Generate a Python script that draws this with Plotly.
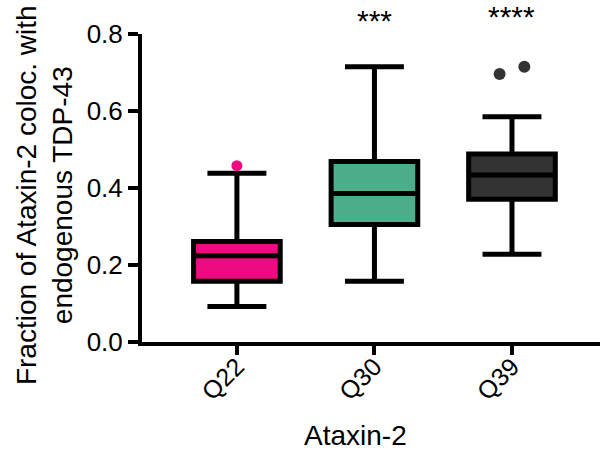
import plotly.graph_objects as go

categories = ["Q22", "Q30", "Q39"]
q1 = [0.158, 0.305, 0.371]
median = [0.224, 0.386, 0.434]
q3 = [0.261, 0.469, 0.488]
lower = [0.092, 0.158, 0.228]
upper = [0.438, 0.715, 0.585]
fills = ["#EE0A80", "#4CAF8B", "#333333"]

outlier_group = [0, 2, 2]
outlier_dx = [0.0, -0.09, 0.09]
outlier_y = [0.458, 0.696, 0.715]
outlier_colors = ["#EE0A80", "#333333", "#333333"]
outlier_sizes = [11, 12, 12]

sig_labels = ["", "***", "****"]
sig_y = [0.0, 0.045, 0.057]

y_title = "Fraction of Ataxin-2 coloc. with<br>endogenous TDP-43"
x_title = "Ataxin-2"

FONT = "Liberation Sans, Arial, Helvetica, sans-serif"

fig = go.Figure()
for i, cat in enumerate(categories):
    fig.add_trace(go.Box(
        x=[i], q1=[q1[i]], median=[median[i]], q3=[q3[i]],
        lowerfence=[lower[i]], upperfence=[upper[i]],
        boxpoints=False, width=0.63, whiskerwidth=0.68,
        fillcolor=fills[i], line=dict(color="black", width=5),
        name=cat, showlegend=False, hoverinfo="skip",
    ))

fig.add_trace(go.Scatter(
    x=[g + d for g, d in zip(outlier_group, outlier_dx)], y=outlier_y,
    mode="markers",
    marker=dict(color=outlier_colors, size=outlier_sizes, opacity=1, line=dict(width=0)),
    opacity=1, showlegend=False, hoverinfo="skip", cliponaxis=False,
))

for i, lab in enumerate(sig_labels):
    if lab:
        fig.add_annotation(x=i, y=1 + sig_y[i], xref="x", yref="paper",
                           text=lab, showarrow=False, yanchor="middle",
                           font=dict(family=FONT, size=30, color="black"))

fig.add_annotation(x=0.467, y=-0.305, xref="paper", yref="paper", text=x_title,
                   showarrow=False, yanchor="middle",
                   font=dict(family=FONT, size=28, color="black"))

fig.add_annotation(x=-0.214, y=0.477, xref="paper", yref="paper", text=y_title,
                   textangle=-90, showarrow=False, xanchor="center", yanchor="middle",
                   font=dict(family=FONT, size=28, color="black"))

fig.update_layout(
    width=600, height=457,
    margin=dict(l=142, r=0, t=34, b=115, autoexpand=False),
    plot_bgcolor="white", paper_bgcolor="white",
    font=dict(family=FONT, color="black"),
    xaxis=dict(
        range=[-0.69, 2.64], tickvals=[0, 1, 2], ticktext=categories,
        tickangle=-45, tickfont=dict(size=25), automargin=False,
        ticklabelstandoff=-13,
        ticks="outside", ticklen=9, tickwidth=4, tickcolor="black",
        showline=True, linewidth=4, linecolor="black",
        showgrid=False, zeroline=False,
    ),
    yaxis=dict(
        range=[0, 0.8], tickvals=[0, 0.2, 0.4, 0.6, 0.8], tickformat=".1f",
        tickfont=dict(size=26), automargin=False,
        ticks="outside", ticklen=10, tickwidth=4, tickcolor="black",
        showline=True, linewidth=4, linecolor="black",
        showgrid=False, zeroline=False,
    ),
)

# remove the browser's default 8px body margin so the figure fills the window exactly
fig.write_html(
    "out.html",
    config={"displayModeBar": False},
    post_script="document.body.style.margin='0px';document.body.style.overflow='hidden';",
)
